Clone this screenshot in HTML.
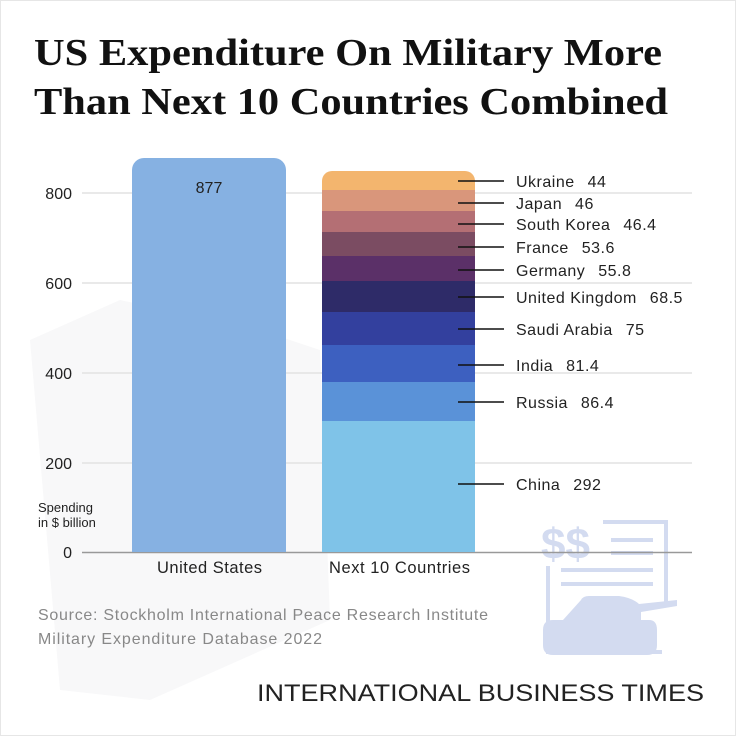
<!DOCTYPE html>
<html><head><meta charset="utf-8"><style>
html,body{margin:0;padding:0;background:#fff}
svg{display:block}
</style></head><body>
<svg width="736" height="736" viewBox="0 0 736 736" xmlns="http://www.w3.org/2000/svg" font-family="Liberation Sans, sans-serif">
<rect width="736" height="736" fill="#fff"/>
<rect x="0.5" y="0.5" width="735" height="735" fill="none" stroke="#e6e6e6" stroke-width="1"/>
<polygon points="30,340 120,300 260,330 320,350 330,620 150,700 60,690" fill="#f8f8f9"/>
<text x="34" y="65" textLength="628" lengthAdjust="spacingAndGlyphs" style="font-family:'Liberation Serif',serif;font-weight:bold;font-size:38px" fill="#111">US Expenditure On Military More</text>
<text x="34" y="114" textLength="634" lengthAdjust="spacingAndGlyphs" style="font-family:'Liberation Serif',serif;font-weight:bold;font-size:38px" fill="#111">Than Next 10 Countries Combined</text>
<g stroke="#e2e2e2" stroke-width="1.5">
<line x1="82" y1="193" x2="692" y2="193"/><line x1="82" y1="283" x2="692" y2="283"/>
<line x1="82" y1="373" x2="692" y2="373"/><line x1="82" y1="463" x2="692" y2="463"/>
</g>
<g fill="#d3dbf0" stroke="none">
<text x="541" y="559" style="font-size:44px;font-weight:bold" fill="#d3dbf0">$$</text>
<rect x="603" y="520" width="64" height="4"/><rect x="664" y="520" width="4" height="83"/>
<rect x="546" y="566" width="4" height="88"/><rect x="546" y="650" width="116" height="4"/>
<rect x="611" y="538" width="42" height="4"/><rect x="611" y="551" width="42" height="4"/>
<rect x="561" y="568" width="92" height="4"/><rect x="561" y="582" width="92" height="4"/>
<path d="M581 600 q2-4 8-4 h30 q14 2 20 8 l38-4 v6 l-36 6 v8 h8 q8 0 8 10 v15 q0 10-10 10 h-94 q-10 0-10-10 v-15 q0-10 10-10 h10 z"/>
</g>
<line x1="82" y1="552.5" x2="692" y2="552.5" stroke="#999" stroke-width="1.5"/>
<g font-size="16" fill="#222" text-anchor="end">
<text x="72" y="199">800</text><text x="72" y="289">600</text><text x="72" y="379">400</text><text x="72" y="469">200</text><text x="72" y="558">0</text>
</g>
<text x="38" y="512" font-size="13" fill="#222">Spending</text>
<text x="38" y="527" font-size="13" fill="#222">in $ billion</text>
<path d="M132 552 V170 a12 12 0 0 1 12 -12 H274 a12 12 0 0 1 12 12 V552 Z" fill="#86b1e2"/>
<text x="209" y="193" font-size="16" fill="#222" text-anchor="middle">877</text>
<rect x="322" y="421" width="153" height="131" fill="#7fc3e8"/>
<rect x="322" y="382" width="153" height="39" fill="#5a92d8"/>
<rect x="322" y="345" width="153" height="37" fill="#3d60c0"/>
<rect x="322" y="312" width="153" height="33" fill="#33409e"/>
<rect x="322" y="281" width="153" height="31" fill="#2e2b68"/>
<rect x="322" y="256" width="153" height="25" fill="#5b3068"/>
<rect x="322" y="232" width="153" height="24" fill="#7b4c62"/>
<rect x="322" y="211" width="153" height="21" fill="#b46f74"/>
<rect x="322" y="190" width="153" height="21" fill="#d9967b"/>
<path d="M322 190 V181 a10 10 0 0 1 10 -10 H465 a10 10 0 0 1 10 10 V190 Z" fill="#f3b56e"/>
<g stroke="#111" stroke-width="1.5">
<line x1="458" y1="181" x2="504" y2="181"/><line x1="458" y1="203" x2="504" y2="203"/>
<line x1="458" y1="224" x2="504" y2="224"/><line x1="458" y1="247" x2="504" y2="247"/>
<line x1="458" y1="270" x2="504" y2="270"/><line x1="458" y1="297" x2="504" y2="297"/>
<line x1="458" y1="329" x2="504" y2="329"/><line x1="458" y1="365" x2="504" y2="365"/>
<line x1="458" y1="402" x2="504" y2="402"/><line x1="458" y1="484" x2="504" y2="484"/>
</g>
<g font-size="16" fill="#222" letter-spacing="0.5">
<text x="516" y="187">Ukraine <tspan dx="8">44</tspan></text>
<text x="516" y="209">Japan <tspan dx="8">46</tspan></text>
<text x="516" y="230">South Korea <tspan dx="8">46.4</tspan></text>
<text x="516" y="253">France <tspan dx="8">53.6</tspan></text>
<text x="516" y="276">Germany <tspan dx="8">55.8</tspan></text>
<text x="516" y="303">United Kingdom <tspan dx="8">68.5</tspan></text>
<text x="516" y="335">Saudi Arabia <tspan dx="8">75</tspan></text>
<text x="516" y="371">India <tspan dx="8">81.4</tspan></text>
<text x="516" y="408">Russia <tspan dx="8">86.4</tspan></text>
<text x="516" y="490">China <tspan dx="8">292</tspan></text>
</g>
<g font-size="16.5" fill="#222">
<text x="157" y="573" textLength="105">United States</text><text x="329" y="573" textLength="141">Next 10 Countries</text>
</g>
<text x="38" y="620" font-size="16" fill="#888" textLength="450">Source: Stockholm International Peace Research Institute</text>
<text x="38" y="644" font-size="16" fill="#888" textLength="284">Military Expenditure Database 2022</text>
<text x="257" y="701" font-size="24" fill="#222" textLength="447" lengthAdjust="spacingAndGlyphs">INTERNATIONAL BUSINESS TIMES</text>
</svg>
</body></html>
